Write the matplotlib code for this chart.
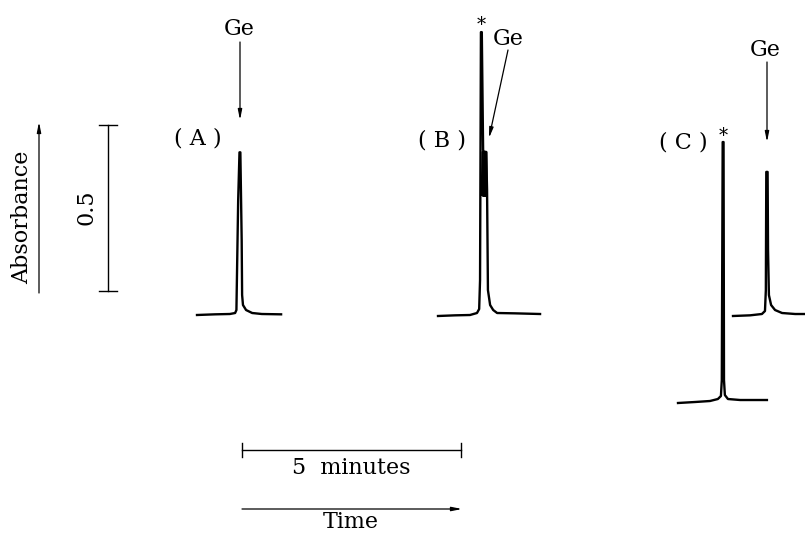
import numpy as np
import matplotlib.pyplot as plt

# chromatogram traces, time in minutes from trace start, absorbance above baseline
t_a = [0, 0.41, 0.75, 0.87, 0.90, 0.94, 0.97, 0.99, 1.02, 1.03, 1.05, 1.12, 1.26, 1.48, 1.92]
abs_a = [0, 0.002, 0.003, 0.006, 0.015, 0.346, 0.490, 0.490, 0.226, 0.060, 0.030, 0.015, 0.006, 0.003, 0.002]

t_b = [0, 0.39, 0.73, 0.89, 0.94, 0.96, 0.98, 1.00, 1.03, 1.05, 1.10, 1.12, 1.14, 1.19, 1.26, 1.35, 1.76, 2.33]
abs_b = [0, 0.002, 0.003, 0.009, 0.021, 0.108, 0.855, 0.855, 0.500, 0.494, 0.494, 0.380, 0.078, 0.033, 0.018, 0.009, 0.008, 0.006]
# Ge shoulder inside the interfering peak of (B)
t_b_ge = [1.00, 1.02, 1.05, 1.10, 1.11]
abs_b_ge = [0.365, 0.494, 0.494, 0.494, 0.365]

t_c_star = [0, 0.39, 0.73, 0.91, 0.98, 1.00, 1.02, 1.04, 1.05, 1.07, 1.14, 1.42, 2.03]
abs_c_star = [0, 0.003, 0.006, 0.012, 0.021, 0.069, 0.786, 0.786, 0.069, 0.024, 0.012, 0.009, 0.009]

t_c_ge = [0, 0.39, 0.66, 0.73, 0.75, 0.76, 0.79, 0.80, 0.82, 0.87, 0.96, 1.12, 1.42, 1.64]
abs_c_ge = [0, 0.002, 0.006, 0.015, 0.078, 0.434, 0.434, 0.199, 0.063, 0.033, 0.018, 0.009, 0.006, 0.006]

scale_time = 5      # minutes
scale_abs = 0.5     # absorbance units

# page scale (pixels per unit) and figure size
W, H = 805, 538
px_min = 219 / 5.0
px_abs = 166 / 0.5


def px(x, y):
    # pixel position on the page -> data coordinates
    return x / px_min, (H - y) / px_abs


fig = plt.figure(figsize=(W / 100, H / 100), dpi=100)
ax = fig.add_axes([0, 0, 1, 1])
ax.set_xlim(0, W / px_min)
ax.set_ylim(0, H / px_abs)
ax.axis('off')

font = dict(family='DejaVu Serif', fontsize=16, color='black')
lw = 1.7

# traces placed at their page offsets
traces = [
    (t_a, abs_a, px(197, 315)),
    (t_b, abs_b, px(438, 316)),
    (t_c_star, abs_c_star, px(678, 403)),
    (t_c_ge, abs_c_ge, px(733, 316)),
]
for t, a, (x0, y0) in traces:
    ax.plot(np.array(t) + x0, np.array(a) + y0, color='black', lw=lw,
            solid_joinstyle='round', clip_on=True)

x0, y0 = px(438, 316)
ax.fill_between(np.array(t_b_ge) + x0, y0 + 0.36, np.array(abs_b_ge) + y0,
                color='black', lw=0)
ax.plot(np.array(t_b_ge) + x0, np.array(abs_b_ge) + y0, color='black', lw=lw)

# arrows
arrow = dict(arrowstyle='-|>,head_length=0.6,head_width=0.12', color='black',
             lw=0.9, shrinkA=0, shrinkB=0)
for start, end in [((240, 42), (240, 120)),
                   ((508, 50), (489, 138)),
                   ((767, 62), (767, 142)),
                   ((39, 293), (39, 122)),
                   ((242, 509), (462, 509))]:
    ax.annotate('', xy=px(*end), xytext=px(*start), arrowprops=arrow)

# labels
for s, (x, y) in [('Ge', (239, 29)), ('Ge', (508, 39)), ('Ge', (765, 50)),
                  ('( A )', (198, 139)), ('( B )', (442, 141)), ('( C )', (683, 143))]:
    ax.text(*px(x, y), s, ha='center', va='center', **font)
for (x, y) in [(481, 25), (723, 136)]:
    ax.text(*px(x, y), '*', ha='center', va='center', family='DejaVu Serif',
            fontsize=13)

# absorbance scale bar
bx, by = px(108, 291)
ax.plot([bx, bx], [by, by + scale_abs], color='black', lw=1.0)
for yy in [by, by + scale_abs]:
    ax.plot([bx - 9 / px_min, bx + 9 / px_min], [yy, yy], color='black', lw=1.0)
ax.text(*px(86, 207), '0.5', rotation=90, ha='center', va='center', **font)
ax.text(*px(22, 217), 'Absorbance', rotation=90, ha='center', va='center', **font)

# time scale bar
tx, ty = px(242, 450)
ax.plot([tx, tx + scale_time], [ty, ty], color='black', lw=1.0)
for xx in [tx, tx + scale_time]:
    ax.plot([xx, xx], [ty - 7 / px_abs, ty + 7 / px_abs], color='black', lw=1.0)
ax.text(*px(351, 468), '5  minutes', ha='center', va='center', **font)
ax.text(*px(351, 522), 'Time', ha='center', va='center', **font)

fig.savefig('out.png', dpi=100)
